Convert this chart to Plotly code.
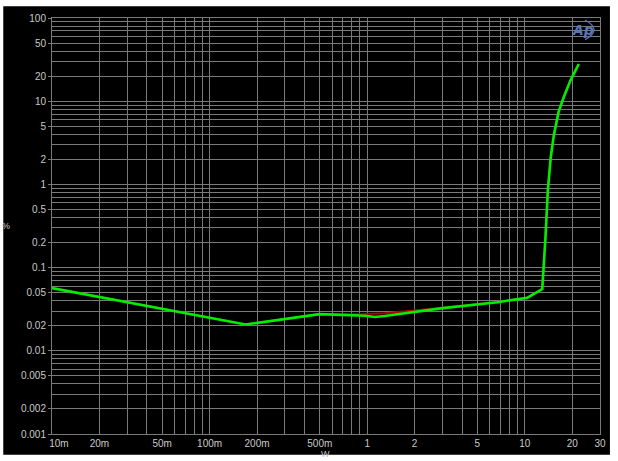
import plotly.graph_objects as go

# ---- data ----
power_w = [0.01, 0.169, 0.50, 0.596, 0.759, 0.966, 1.12, 1.29, 3.02, 6.71, 10.4, 12.9,
           13.5, 14.0, 14.6, 15.3, 16.4, 17.7, 19.5, 22.0]
thd_green = [0.0567, 0.0207, 0.0276, 0.0273, 0.0264, 0.0264, 0.0255, 0.0262, 0.0326, 0.0384,
             0.0435, 0.0552, 0.216, 0.845, 2.09, 3.96, 7.49, 11.3, 17.8, 28.0]
thd_red = [0.0567, 0.0207, 0.0276, 0.0274, 0.0275, 0.0277, 0.0279, 0.0283, 0.0330, 0.0385,
           0.0436, 0.0555, 0.220, 0.85, 2.10, 3.97, 7.5, 11.3, 17.8, 28.0]

x_tick_vals = [0.01, 0.02, 0.05, 0.1, 0.2, 0.5, 1, 2, 5, 10, 20, 30]
x_tick_text = ["\u00a0\u00a0\u00a0\u00a0\u00a010m", "20m", "50m", "100m", "200m", "500m",
               "1", "2", "5", "10", "20", "30"]
y_tick_vals = [100, 50, 20, 10, 5, 2, 1, 0.5, 0.2, 0.1, 0.05, 0.02, 0.01, 0.005, 0.002, 0.001]
y_tick_text = ["100", "50", "20", "10", "5", "2", "1", "0.5", "0.2", "0.1", "0.05", "0.02",
               "0.01", "0.005", "0.002", "0.001"]

x_minor = [m * 10 ** e for e in range(-2, 2) for m in range(1, 10)] + [30]
x_minor = [v for v in x_minor if 0.01 <= v <= 30]
y_minor = [m * 10 ** e for e in range(-3, 2) for m in range(1, 10)] + [100]

GRID = "#7a7a7a"
TXT = "#c8c8c8"
FONT = "Liberation Sans, Arial"

fig = go.Figure()
fig.add_trace(go.Scatter(x=power_w, y=thd_red, mode="lines",
                         line=dict(color="#b00000", width=2), showlegend=False))
fig.add_trace(go.Scatter(x=power_w, y=thd_green, mode="lines",
                         line=dict(color="#00ee00", width=2.6), showlegend=False))

W, H = 618, 461
L, R, T, B = 52, 15, 15, 24
pw, ph = W - L - R, H - T - B

def px2paper_x(px):
    return (px - L) / pw

def px2paper_y(py):
    return (H - B - py) / ph

fig.add_shape(type="rect", xref="paper", yref="paper",
              x0=px2paper_x(3), x1=px2paper_x(613), y0=px2paper_y(458), y1=px2paper_y(3),
              fillcolor="black", line=dict(width=0), layer="below")

fig.add_annotation(x=px2paper_x(6), y=px2paper_y(226), xref="paper", yref="paper",
                   xanchor="center", yanchor="middle",
                   text="%", showarrow=False, font=dict(color=TXT, size=9, family=FONT))
fig.add_annotation(x=px2paper_x(327), y=px2paper_y(450), xref="paper", yref="paper",
                   xanchor="center", yanchor="top", text="W", showarrow=False,
                   font=dict(color=TXT, size=9, family=FONT))
fig.add_annotation(x=px2paper_x(586), y=px2paper_y(27), xref="paper", yref="paper",
                   xanchor="center", yanchor="middle",
                   text="<i><b>Ap</b></i>", showarrow=False,
                   font=dict(color="#5a74b8", size=14, family="DejaVu Sans"))
fig.add_shape(type="path", xref="paper", yref="paper",
              path="M {:.4f},{:.4f} Q {:.4f},{:.4f} {:.4f},{:.4f}".format(
                  px2paper_x(588), px2paper_y(17), px2paper_x(606), px2paper_y(27),
                  px2paper_x(588), px2paper_y(37)),
              line=dict(color="#5a74b8", width=1.3))

fig.update_xaxes(type="log", range=[-2, 1.4771], tickvals=x_tick_vals, ticktext=x_tick_text,
                 showgrid=True, gridcolor=GRID, gridwidth=1,
                 minor=dict(tickvals=x_minor, showgrid=True, gridcolor=GRID, gridwidth=1),
                 showline=True, linecolor=GRID, mirror=True, zeroline=False,
                 tickfont=dict(color=TXT, size=10, family=FONT), ticks="", ticklen=0)
fig.update_yaxes(type="log", range=[-3, 2], tickvals=y_tick_vals, ticktext=y_tick_text,
                 showgrid=True, gridcolor=GRID, gridwidth=1,
                 minor=dict(tickvals=y_minor, showgrid=True, gridcolor=GRID, gridwidth=1),
                 showline=True, linecolor=GRID, mirror=True, zeroline=False,
                 tickfont=dict(color=TXT, size=10, family=FONT), ticks="outside", ticklen=3,
                 tickcolor=GRID)

fig.update_layout(width=W, height=H, margin=dict(l=L, r=R, t=T, b=B, pad=0),
                  paper_bgcolor="white", plot_bgcolor="black", showlegend=False)

fig.write_html("out.html", config={"displayModeBar": False})

# remove the browser's default 8px body margin so the figure sits at the page origin
with open("out.html", "r", encoding="utf-8") as f:
    html = f.read()
html = html.replace("<body>", '<body style="margin:0;overflow:hidden">', 1)
with open("out.html", "w", encoding="utf-8") as f:
    f.write(html)
